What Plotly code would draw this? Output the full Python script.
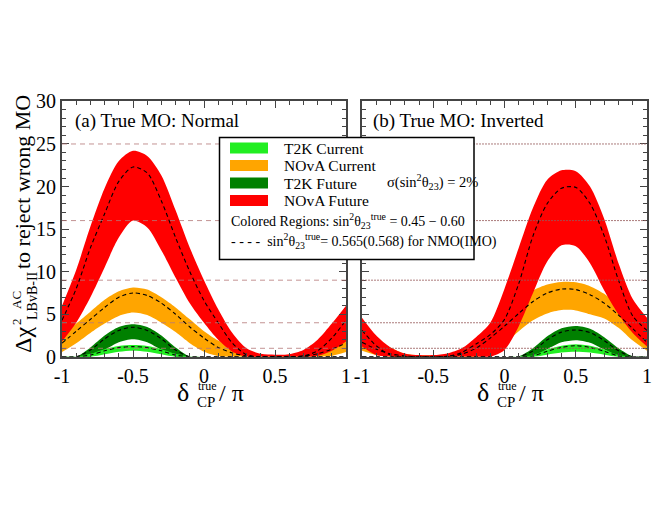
import plotly.graph_objects as go

# ---------------- data ----------------
delta = [-1.0, -0.9, -0.8, -0.7, -0.6, -0.5, -0.4, -0.3, -0.2, -0.1, 0.0,
         0.1, 0.2, 0.3, 0.4, 0.5, 0.6, 0.7, 0.8, 0.9, 1.0]

# (a) True MO: Normal
nmo_t2k_cur_lo = [0, 0, 0, 0.3, 0.6, 0.72, 0.6, 0.3, 0, 0, 0, 0, 0, 0, 0, 0, 0, 0, 0, 0, 0]
nmo_t2k_cur_c  = [0, 0, 0.2, 0.7, 1.08, 1.19, 1.08, 0.7, 0.2, 0, 0, 0, 0, 0, 0, 0, 0, 0, 0, 0, 0]
nmo_t2k_cur_hi = [0, 0, 0.35, 0.9, 1.28, 1.39, 1.28, 0.9, 0.35, 0, 0, 0, 0, 0, 0, 0, 0, 0, 0, 0, 0]

nmo_t2k_fut_lo = [0, 0, 0, 0.8, 1.7, 2.06, 1.7, 0.8, 0, 0, 0, 0, 0, 0, 0, 0, 0, 0, 0, 0, 0]
nmo_t2k_fut_c  = [0, 0, 0.8, 2.1, 3.1, 3.47, 3.1, 2.1, 0.8, 0, 0, 0, 0, 0, 0, 0, 0, 0, 0, 0, 0]
nmo_t2k_fut_hi = [0, 0, 1.1, 2.5, 3.5, 3.82, 3.5, 2.5, 1.1, 0.05, 0, 0, 0, 0, 0, 0, 0, 0, 0, 0, 0]

nmo_nova_cur_lo = [0.55, 1.6, 2.8, 3.9, 4.8, 5.2, 4.9, 4.0, 2.9, 1.6, 0.6, 0.1, 0, 0, 0, 0, 0, 0, 0, 0.1, 0.55]
nmo_nova_cur_c  = [1.6, 3.0, 4.4, 5.8, 7.0, 7.5, 7.2, 6.3, 5.0, 3.5, 2.2, 1.1, 0.45, 0.1, 0, 0, 0, 0.1, 0.35, 0.9, 1.6]
nmo_nova_cur_hi = [2.5, 3.9, 5.3, 6.7, 7.7, 8.15, 7.9, 7.0, 5.8, 4.4, 3.0, 1.9, 1.1, 0.55, 0.25, 0.15, 0.25, 0.55, 1.1, 1.7, 2.5]

nmo_nova_fut_lo = [1.8, 4.0, 7.0, 10.5, 14.0, 16.0, 15.2, 12.5, 9.3, 6.3, 4.0, 2.0, 0.6, 0, 0, 0, 0, 0, 0.1, 0.7, 1.8]
nmo_nova_fut_c  = [4.3, 8.0, 12.8, 16.8, 20.6, 22.3, 21.6, 18.3, 14.0, 10.0, 6.6, 4.0, 1.6, 0.25, 0, 0, 0, 0.1, 0.7, 2.2, 4.3]
nmo_nova_fut_hi = [6.0, 10.2, 15.3, 19.8, 23.0, 24.2, 23.6, 21.3, 17.2, 12.8, 9.0, 5.6, 2.8, 1.0, 0.35, 0.25, 0.3, 0.8, 2.0, 3.9, 6.0]

# (b) True MO: Inverted
imo_t2k_cur_lo = [0, 0, 0, 0, 0, 0, 0, 0, 0, 0, 0, 0, 0, 0.25, 0.5, 0.6, 0.5, 0.25, 0, 0, 0]
imo_t2k_cur_c  = [0, 0, 0, 0, 0, 0, 0, 0, 0, 0, 0, 0, 0.1, 0.65, 1.1, 1.3, 1.1, 0.65, 0.1, 0, 0]
imo_t2k_cur_hi = [0, 0, 0, 0, 0, 0, 0, 0, 0, 0, 0, 0, 0.2, 0.85, 1.3, 1.47, 1.3, 0.85, 0.2, 0, 0]

imo_t2k_fut_lo = [0, 0, 0, 0, 0, 0, 0, 0, 0, 0, 0, 0, 0, 0.9, 1.7, 1.95, 1.65, 0.85, 0, 0, 0]
imo_t2k_fut_c  = [0, 0, 0, 0, 0, 0, 0, 0, 0, 0, 0, 0, 0.7, 2.0, 2.9, 3.15, 2.85, 1.9, 0.7, 0, 0]
imo_t2k_fut_hi = [0, 0, 0, 0, 0, 0, 0, 0, 0, 0, 0, 0.05, 1.0, 2.4, 3.35, 3.62, 3.3, 2.3, 1.0, 0.05, 0]

imo_nova_cur_lo = [0.7, 0.2, 0, 0, 0, 0, 0, 0, 0, 0.4, 1.5, 3.0, 4.3, 5.1, 5.5, 5.45, 5.0, 4.5, 3.4, 1.9, 0.7]
imo_nova_cur_c  = [1.7, 0.9, 0.35, 0.1, 0, 0, 0.05, 0.3, 1.0, 2.2, 3.6, 5.1, 6.5, 7.5, 7.95, 7.9, 7.3, 6.3, 4.9, 3.3, 1.7]
imo_nova_cur_hi = [2.8, 1.8, 1.1, 0.35, 0.18, 0.15, 0.2, 0.5, 2.0, 3.6, 5.2, 6.7, 7.8, 8.5, 8.8, 8.75, 8.3, 7.4, 6.0, 4.5, 2.8]

imo_nova_fut_lo = [1.2, 0.2, 0, 0, 0, 0, 0, 0, 0, 0, 0.8, 3.6, 7.5, 11.2, 13.1, 13.0, 11.0, 7.8, 5.0, 2.8, 1.2]
imo_nova_fut_c  = [3.1, 1.3, 0.2, 0, 0, 0, 0.05, 0.5, 1.5, 2.6, 4.4, 8.6, 14.2, 18.0, 19.8, 19.9, 18.0, 14.2, 9.0, 4.8, 3.1]
imo_nova_fut_hi = [4.6, 2.5, 1.1, 0.4, 0.2, 0.2, 0.4, 1.0, 2.3, 4.0, 8.0, 12.8, 17.5, 20.8, 21.9, 21.8, 20.0, 16.2, 11.0, 6.8, 4.6]

sigma_levels = [1, 4, 9, 16, 25]
x_ticks = [-1, -0.5, 0, 0.5, 1]
x_tick_labels = ["-1", "-0.5", "0", "0.5", "1"]
y_ticks = [0, 5, 10, 15, 20, 25, 30]
y_tick_labels = ["0", "5", "10", "15", "20", "25", "30"]

legend_names = ["T2K Current", "NOvA Current", "T2K Future", "NOvA Future"]
C_T2K_CUR = "#22ee22"
C_NOVA_CUR = "#ffa500"
C_T2K_FUT = "#008000"
C_NOVA_FUT = "#ff0000"
legend_colors = [C_T2K_CUR, C_NOVA_CUR, C_T2K_FUT, C_NOVA_FUT]

FONT = "Liberation Serif, Times New Roman, serif"
OFF = 8                      # page body margin in the browser
W, H = 660 - OFF, 510 - OFF


def px(x):
    return (x - OFF) / W


def py(y):
    return 1 - (y - OFF) / H


fig = go.Figure()


def band(lo, hi, color, xa, ya):
    fig.add_trace(go.Scatter(x=delta, y=lo, mode="lines", line=dict(width=0, shape="spline", smoothing=0.8),
                             xaxis=xa, yaxis=ya, showlegend=False, hoverinfo="skip"))
    fig.add_trace(go.Scatter(x=delta, y=hi, mode="lines", line=dict(width=0, shape="spline", smoothing=0.8),
                             fill="tonexty", fillcolor=color, xaxis=xa, yaxis=ya, showlegend=False,
                             hoverinfo="skip"))


def central(c, xa, ya):
    fig.add_trace(go.Scatter(x=delta, y=c, mode="lines",
                             line=dict(color="black", width=1.1, dash="4px,3px", shape="spline", smoothing=0.8),
                             xaxis=xa, yaxis=ya, showlegend=False, hoverinfo="skip"))


panels = [
    ("x", "y", [(nmo_nova_cur_lo, nmo_nova_cur_c, nmo_nova_cur_hi, C_NOVA_CUR),
                (nmo_nova_fut_lo, nmo_nova_fut_c, nmo_nova_fut_hi, C_NOVA_FUT),
                (nmo_t2k_fut_lo, nmo_t2k_fut_c, nmo_t2k_fut_hi, C_T2K_FUT),
                (nmo_t2k_cur_lo, nmo_t2k_cur_c, nmo_t2k_cur_hi, C_T2K_CUR)]),
    ("x2", "y2", [(imo_nova_cur_lo, imo_nova_cur_c, imo_nova_cur_hi, C_NOVA_CUR),
                  (imo_nova_fut_lo, imo_nova_fut_c, imo_nova_fut_hi, C_NOVA_FUT),
                  (imo_t2k_fut_lo, imo_t2k_fut_c, imo_t2k_fut_hi, C_T2K_FUT),
                  (imo_t2k_cur_lo, imo_t2k_cur_c, imo_t2k_cur_hi, C_T2K_CUR)]),
]

for xa, ya, sets in panels:
    for lo, c, hi, col in sets:
        band(lo, hi, col, xa, ya)
    for lo, c, hi, col in sets:
        central(c, xa, ya)

shapes = []
# sigma reference lines
for lev in sigma_levels:
    shapes.append(dict(type="line", xref="x domain", yref="y", x0=0, x1=1, y0=lev, y1=lev,
                       line=dict(color="rgba(180,120,120,0.8)", width=1, dash="5px,4px"), layer="above"))
    shapes.append(dict(type="line", xref="x2 domain", yref="y2", x0=0, x1=1, y0=lev, y1=lev,
                       line=dict(color="rgba(150,90,90,0.8)", width=1, dash="2px,1px"), layer="above"))

# legend box
shapes.append(dict(type="rect", xref="paper", yref="paper", x0=px(219.5), x1=px(474), y0=py(259.5), y1=py(137.5),
                   fillcolor="white", line=dict(color="black", width=1.5), layer="above"))
row_y = [148, 165.5, 183, 200.5]
annotations = []
for name, col, yy in zip(legend_names, legend_colors, row_y):
    shapes.append(dict(type="rect", xref="paper", yref="paper", x0=px(230), x1=px(268),
                       y0=py(yy + 5.5), y1=py(yy - 5.5), fillcolor=col, line=dict(width=0), layer="above"))
    annotations.append(dict(x=px(282), y=py(yy), xref="paper", yref="paper", text=name, showarrow=False,
                            xanchor="left", yanchor="middle", font=dict(family=FONT, size=15.5, color="black")))


def txt(x, y, text, size, xanchor="left", angle=0, pad=1):
    annotations.append(dict(x=px(x), y=py(y), xref="paper", yref="paper", text=text, showarrow=False,
                            xanchor=xanchor, yanchor="middle", textangle=angle, borderpad=pad,
                            font=dict(family=FONT, size=size, color="black")))


txt(385, 182, "σ(sin<sup>2</sup>θ<sub>23</sub>) = 2%", 14.5)
txt(229, 221, "Colored Regions: sin<sup>2</sup>θ<sub>23</sub><sup>true</sup> = 0.45 − 0.60", 14)
txt(229, 241, "- - - -  sin<sup>2</sup>θ<sub>23</sub><sup>true</sup>= 0.565(0.568) for NMO(IMO)", 14)
txt(73, 121, "(a) True MO: Normal", 19)
txt(371, 121, "(b) True MO: Inverted", 19)

# x-axis titles (superscript "true" stacked above the "CP" subscript)
for cx in (205, 505):
    txt(cx - 29, 392, "δ", 26, pad=0)
    txt(cx - 9, 402, "CP", 15, pad=0)
    txt(cx - 8, 386, "true", 12, pad=0)
    txt(cx + 13, 393, "/ π", 24, pad=0)

# y-axis title (rotated); "AC" stacked above "LBvB-II"
txt(23, 340, "Δχ", 24, xanchor="center", angle=-90, pad=0)
txt(16, 322, "2", 13, xanchor="center", angle=-90, pad=0)
txt(16, 300, "AC", 13, xanchor="center", angle=-90, pad=0)
txt(32, 296, "LBvB-II", 14, xanchor="center", angle=-90, pad=0)
txt(22, 182, "to reject wrong MO", 22, xanchor="center", angle=-90, pad=0)

AX_COL = "#444444"
common_x = dict(range=[-1, 1], showline=True, linecolor=AX_COL, linewidth=2, mirror="allticks",
                ticks="inside", ticklen=7, tickwidth=1.2, tickcolor=AX_COL, tickvals=x_ticks,
                ticktext=x_tick_labels, showgrid=False, zeroline=False, automargin=False,
                tickfont=dict(family=FONT, size=20, color="black"),
                minor=dict(dtick=0.1, tick0=0, ticks="inside", ticklen=4, tickcolor=AX_COL, showgrid=False))
common_y = dict(range=[0, 30], showline=True, linecolor=AX_COL, linewidth=2, mirror="allticks",
                ticks="inside", ticklen=7, tickwidth=1.2, tickcolor=AX_COL, tickvals=y_ticks,
                ticktext=y_tick_labels, showgrid=False, zeroline=False, automargin=False,
                tickfont=dict(family=FONT, size=20, color="black"),
                minor=dict(dtick=1, tick0=0, ticks="inside", ticklen=4, tickcolor=AX_COL, showgrid=False),
                domain=[py(356.8), py(101.4)])

fig.update_layout(
    width=W, height=H, margin=dict(l=0, r=0, t=0, b=0, autoexpand=False),
    paper_bgcolor="white", plot_bgcolor="white",
    xaxis=dict(common_x, domain=[px(62), px(346)], anchor="y"),
    yaxis=dict(common_y, anchor="x"),
    xaxis2=dict(common_x, domain=[px(362), px(647)], anchor="y2"),
    yaxis2=dict(common_y, anchor="x2", showticklabels=False),
    shapes=shapes, annotations=annotations, showlegend=False,
)

fig.write_html("out.html")
